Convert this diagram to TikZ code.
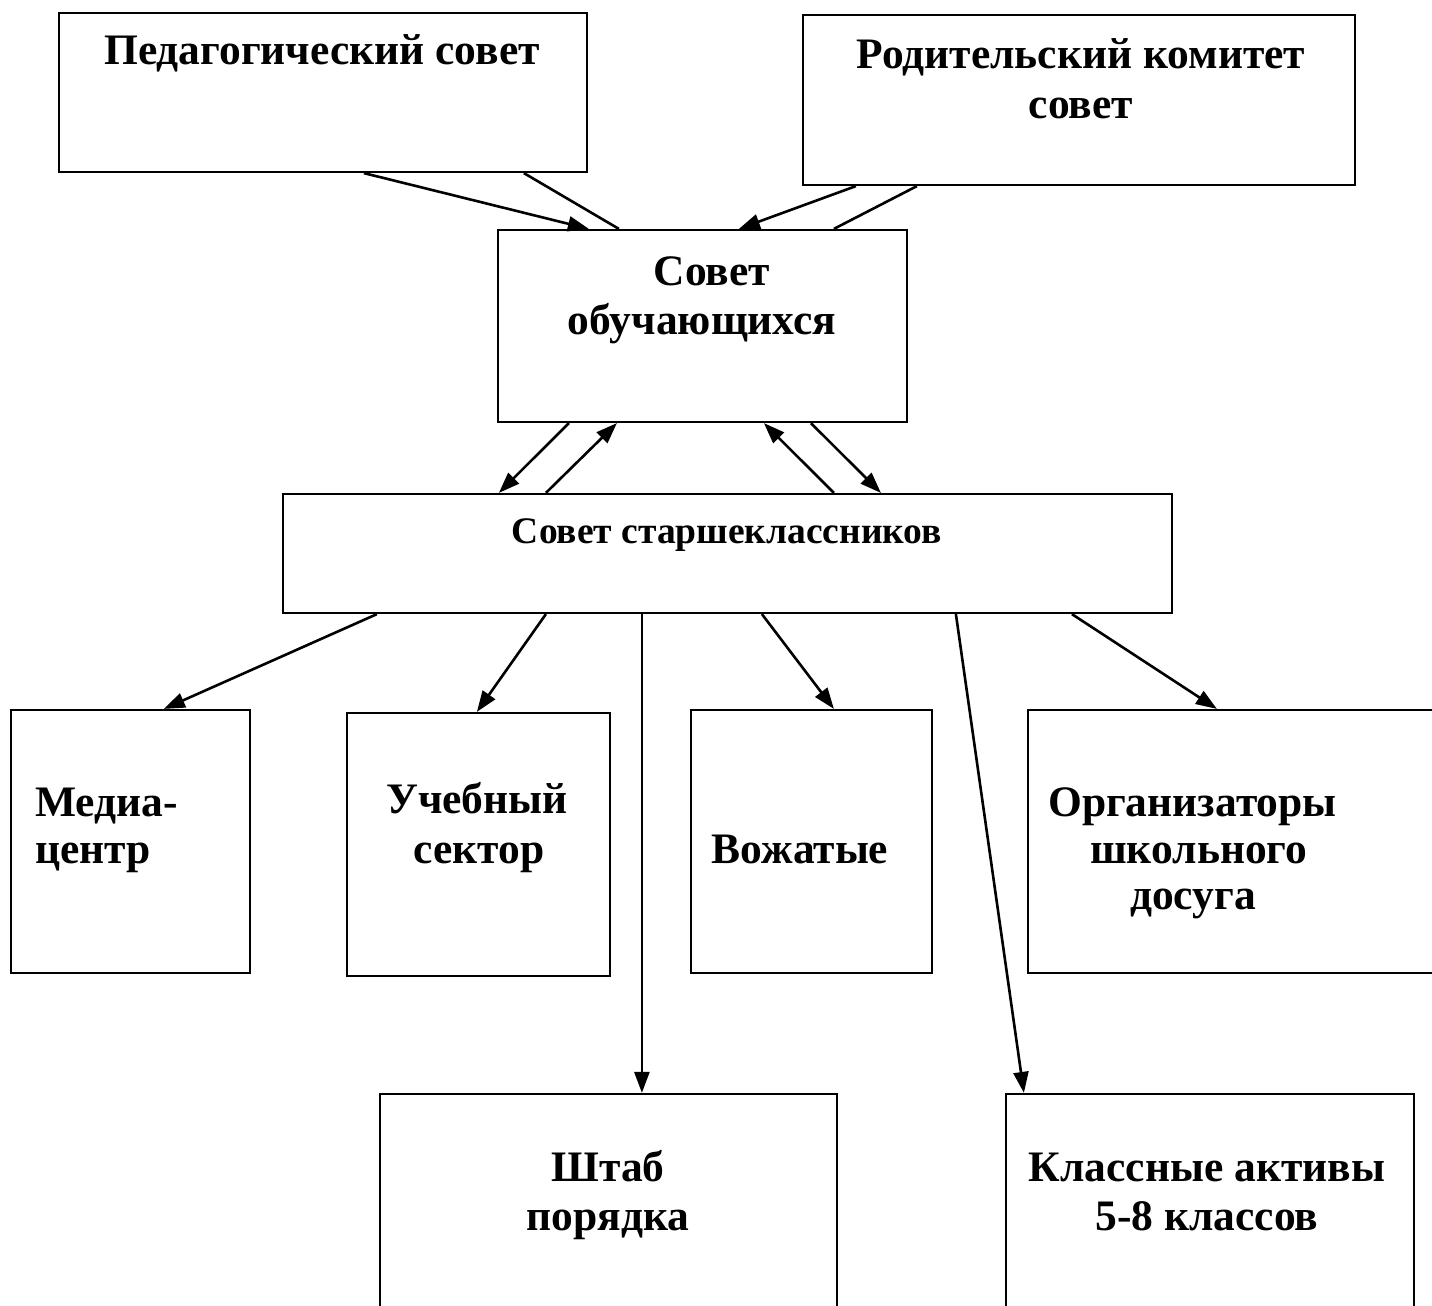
\documentclass[tikz,border=0pt]{standalone}
\usepackage{fontspec}
\setmainfont{Liberation Serif}
\usetikzlibrary{arrows.meta}
\begin{document}
\begin{tikzpicture}[x=1pt,y=-1pt,
  box/.style={draw=black,line width=2.2pt,fill=none,inner sep=0pt},
  txt/.style={inner sep=0pt,anchor=base,font=\fontsize{43.5}{48}\selectfont\bfseries},
  txtl/.style={txt,anchor=base west},
  small/.style={inner sep=0pt,anchor=base,font=\fontsize{37.5}{42}\selectfont\bfseries},
  conn/.style={line width=2.6pt,draw=black},
  arr/.style={conn,-{Triangle[length=21pt,width=15pt]}}]
\useasboundingbox (0,0) rectangle (1432,1306);
\clip (0,0) rectangle (1432,1306);
% boxes
\node[box,minimum width=528pt,minimum height=159pt] (ped) at (323,92.5) {};
\node[box,minimum width=552pt,minimum height=170pt] (rod) at (1079,100) {};
\node[box,minimum width=409pt,minimum height=192pt] (obu) at (702.5,326) {};
\node[box,minimum width=889pt,minimum height=119pt] (star) at (727.5,553.5) {};
\node[box,minimum width=239pt,minimum height=263pt] (media) at (130.5,841.5) {};
\node[box,minimum width=263pt,minimum height=263pt] (ucheb) at (478.5,844.5) {};
\node[box,minimum width=241pt,minimum height=263pt] (vozh) at (811.5,841.5) {};
\node[box,minimum width=420pt,minimum height=263pt] (org) at (1238,841.5) {};
\node[box,minimum width=457pt,minimum height=300pt] (shtab) at (608.5,1244) {};
\node[box,minimum width=408pt,minimum height=300pt] (klass) at (1210,1244) {};
% texts
\node[txt] (tped) at (322,64) {Педагогический совет};
\node[txt] (trod1) at (1081,69) {Родительский комитет};
\node[txt] (trod2) at (1081,118) {совет};
\node[txt] (tobu1) at (712,285) {Совет};
\node[txt] (tobu2) at (702,334) {обучающихся};
\node[small] (tstar) at (727,543) {Совет старшеклассников};
\node[txtl] (tmed1) at (35,816) {Медиа-};
\node[txtl] (tmed2) at (35,863) {центр};
\node[txt] (tuch1) at (477,813) {Учебный};
\node[txt] (tuch2) at (479,863) {сектор};
\node[txt] (tvoz) at (800,863) {Вожатые};
\node[txtl] (torg1) at (1048,816) {Организаторы};
\node[txtl] (torg2) at (1090,863) {школьного};
\node[txtl] (torg3) at (1130,909) {досуга};
\node[txt] (tsht1) at (608,1181) {Штаб};
\node[txt] (tsht2) at (608,1230) {порядка};
\node[txt] (tkl1) at (1207,1181) {Классные активы};
\node[txt] (tkl2) at (1207,1230) {5-8 классов};
% connectors
\draw[arr] ([xshift=306pt]ped.south west) -- ([xshift=92pt]obu.north west);
\draw[conn] ([xshift=466pt]ped.south west) -- ([xshift=122pt]obu.north west);
\draw[arr] ([xshift=54pt]rod.south west) -- ([xshift=242pt]obu.north west);
\draw[conn] ([xshift=115pt]rod.south west) -- ([xshift=337pt]obu.north west);
\draw[arr] ([xshift=72pt]obu.south west) -- ([xshift=217pt]star.north west);
\draw[arr] ([xshift=264pt]star.north west) -- ([xshift=120pt]obu.south west);
\draw[arr] ([xshift=552pt]star.north west) -- ([xshift=267pt]obu.south west);
\draw[arr] ([xshift=314pt]obu.south west) -- ([xshift=599pt]star.north west);
\draw[arr] ([xshift=95pt]star.south west) -- ([xshift=154pt]media.north west);
\draw[arr] ([xshift=264pt]star.south west) -- ([xshift=131pt]ucheb.north west);
\draw[arr] ([xshift=360pt]star.south west) -- ([xshift=263pt]shtab.north west);
\draw[arr] ([xshift=480pt]star.south west) -- ([xshift=144pt]vozh.north west);
\draw[arr] ([xshift=674pt]star.south west) -- ([xshift=19pt]klass.north west);
\draw[arr] ([xshift=790pt]star.south west) -- ([xshift=190pt]org.north west);
\end{tikzpicture}
\end{document}
